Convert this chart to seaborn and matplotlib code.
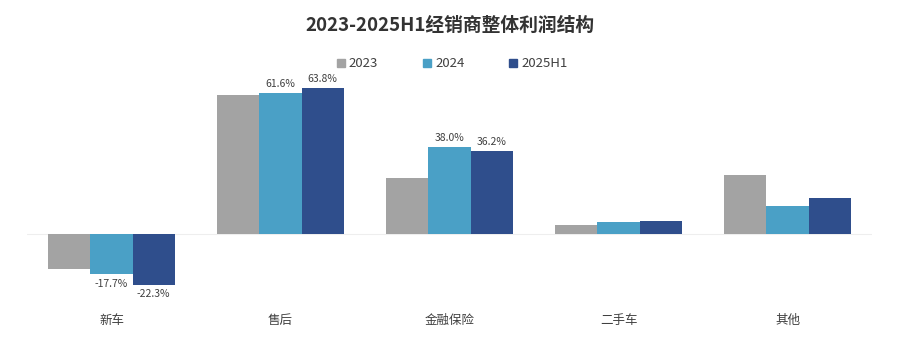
import matplotlib

matplotlib.use("Agg")

import matplotlib.pyplot as plt
import pandas as pd
import seaborn as sns

# chart data
categories = ["新车", "售后", "金融保险", "二手车", "其他"]
years = ["2023", "2024", "2025H1"]
profit_2023 = [-15.5, 60.8, 24.5, 3.9, 25.8]
profit_2024 = [-17.7, 61.6, 38.0, 5.4, 12.2]
profit_2025h1 = [-22.3, 63.8, 36.2, 5.8, 15.9]
labelled = ["新车", "售后", "金融保险"]  # only these show values for 2024/2025H1

colors = ["#a3a3a3", "#4aa0c6", "#2f4e8c"]
TEXT = "#404040"

sns.set_theme(style="white")
plt.rcParams["font.family"] = ["Noto Sans CJK SC", "DejaVu Sans"]
plt.rcParams["axes.unicode_minus"] = False

df = pd.DataFrame({
    "category": categories * 3,
    "year": [y for y in years for _ in categories],
    "value": profit_2023 + profit_2024 + profit_2025h1,
})

fig = plt.figure(figsize=(8.99, 3.61), dpi=100)
ax = fig.add_axes([0.030, 0.168, 0.940, 0.628])

sns.barplot(
    data=df, x="category", y="value", hue="year",
    palette=colors, width=0.75, saturation=1, linewidth=0, ax=ax, legend=False,
)

ax.set_xlim(-0.5, len(categories) - 0.5)
ax.set_ylim(-29, 70)
ax.axhline(0, color="#eeeeee", lw=0.8, zorder=0)
sns.despine(ax=ax, left=True, bottom=True)
ax.set_yticks([])
ax.set_xlabel("")
ax.set_ylabel("")
ax.tick_params(axis="x", length=0, pad=10, labelsize=9, labelcolor=TEXT)

for container, series in zip(ax.containers[1:], [profit_2024, profit_2025h1]):
    texts = [f"{v:.1f}%" if c in labelled else "" for c, v in zip(categories, series)]
    ax.bar_label(container, labels=texts, padding=3, fontsize=7.5, color=TEXT)

handles = [plt.Rectangle((0, 0), 1, 1, color=c) for c in colors]
fig.legend(
    handles, years, loc="center", bbox_to_anchor=(0.503, 0.823), ncol=3,
    frameon=False, fontsize=9.5, handlelength=0.6, handleheight=0.6,
    handletextpad=0.3, columnspacing=3.4, labelcolor=TEXT,
)

fig.text(0.5, 0.93, "2023-2025H1经销商整体利润结构", ha="center", va="center",
         fontsize=13.5, fontweight="bold", color="#333333")

fig.savefig("out.png", dpi=100)
